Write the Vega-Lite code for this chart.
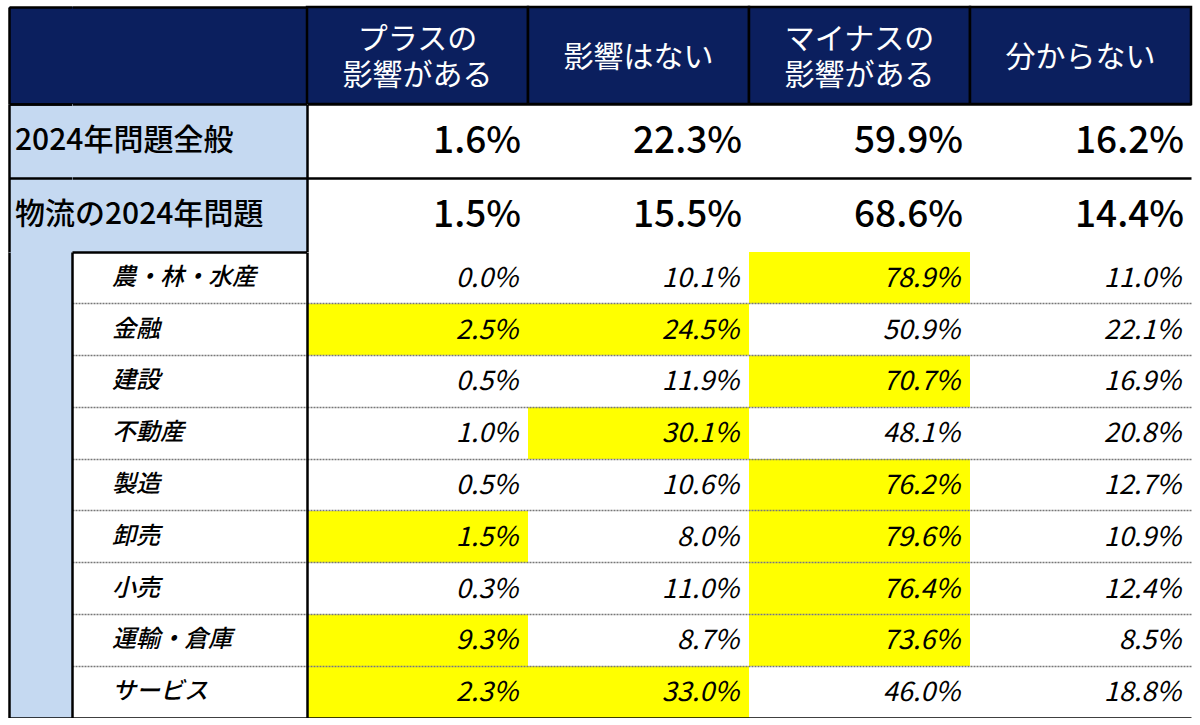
{
  "$schema": "https://vega.github.io/schema/vega-lite/v6.json",
  "padding": {"left": 9, "top": 5, "right": 0, "bottom": 0},
  "background": "white",
  "columns": 3,
  "spacing": 0,
  "bounds": "flush",
  "config": {"view": {"stroke": null}, "font": "Noto Sans CJK JP"},
  "datasets": {
    "cols": [
      {"col": "プラスの影響がある", "lines": ["プラスの", "影響がある"]},
      {"col": "影響はない", "lines": ["影響はない"]},
      {"col": "マイナスの影響がある", "lines": ["マイナスの", "影響がある"]},
      {"col": "分からない", "lines": ["分からない"]}
    ],
    "summary": [
      {"item": "2024年問題全般", "col": "プラスの影響がある", "v": 0.016},
      {"item": "2024年問題全般", "col": "影響はない", "v": 0.223},
      {"item": "2024年問題全般", "col": "マイナスの影響がある", "v": 0.599},
      {"item": "2024年問題全般", "col": "分からない", "v": 0.162},
      {"item": "物流の2024年問題", "col": "プラスの影響がある", "v": 0.015},
      {"item": "物流の2024年問題", "col": "影響はない", "v": 0.155},
      {"item": "物流の2024年問題", "col": "マイナスの影響がある", "v": 0.686},
      {"item": "物流の2024年問題", "col": "分からない", "v": 0.144}
    ],
    "sectors": [
      {"sector": "農・林・水産", "col": "プラスの影響がある", "v": 0.0, "hl": false},
      {"sector": "農・林・水産", "col": "影響はない", "v": 0.101, "hl": false},
      {"sector": "農・林・水産", "col": "マイナスの影響がある", "v": 0.789, "hl": true},
      {"sector": "農・林・水産", "col": "分からない", "v": 0.110, "hl": false},
      {"sector": "金融", "col": "プラスの影響がある", "v": 0.025, "hl": true},
      {"sector": "金融", "col": "影響はない", "v": 0.245, "hl": true},
      {"sector": "金融", "col": "マイナスの影響がある", "v": 0.509, "hl": false},
      {"sector": "金融", "col": "分からない", "v": 0.221, "hl": false},
      {"sector": "建設", "col": "プラスの影響がある", "v": 0.005, "hl": false},
      {"sector": "建設", "col": "影響はない", "v": 0.119, "hl": false},
      {"sector": "建設", "col": "マイナスの影響がある", "v": 0.707, "hl": true},
      {"sector": "建設", "col": "分からない", "v": 0.169, "hl": false},
      {"sector": "不動産", "col": "プラスの影響がある", "v": 0.010, "hl": false},
      {"sector": "不動産", "col": "影響はない", "v": 0.301, "hl": true},
      {"sector": "不動産", "col": "マイナスの影響がある", "v": 0.481, "hl": false},
      {"sector": "不動産", "col": "分からない", "v": 0.208, "hl": false},
      {"sector": "製造", "col": "プラスの影響がある", "v": 0.005, "hl": false},
      {"sector": "製造", "col": "影響はない", "v": 0.106, "hl": false},
      {"sector": "製造", "col": "マイナスの影響がある", "v": 0.762, "hl": true},
      {"sector": "製造", "col": "分からない", "v": 0.127, "hl": false},
      {"sector": "卸売", "col": "プラスの影響がある", "v": 0.015, "hl": true},
      {"sector": "卸売", "col": "影響はない", "v": 0.080, "hl": false},
      {"sector": "卸売", "col": "マイナスの影響がある", "v": 0.796, "hl": true},
      {"sector": "卸売", "col": "分からない", "v": 0.109, "hl": false},
      {"sector": "小売", "col": "プラスの影響がある", "v": 0.003, "hl": false},
      {"sector": "小売", "col": "影響はない", "v": 0.110, "hl": false},
      {"sector": "小売", "col": "マイナスの影響がある", "v": 0.764, "hl": true},
      {"sector": "小売", "col": "分からない", "v": 0.124, "hl": false},
      {"sector": "運輸・倉庫", "col": "プラスの影響がある", "v": 0.093, "hl": true},
      {"sector": "運輸・倉庫", "col": "影響はない", "v": 0.087, "hl": false},
      {"sector": "運輸・倉庫", "col": "マイナスの影響がある", "v": 0.736, "hl": true},
      {"sector": "運輸・倉庫", "col": "分からない", "v": 0.085, "hl": false},
      {"sector": "サービス", "col": "プラスの影響がある", "v": 0.023, "hl": true},
      {"sector": "サービス", "col": "影響はない", "v": 0.330, "hl": true},
      {"sector": "サービス", "col": "マイナスの影響がある", "v": 0.460, "hl": false},
      {"sector": "サービス", "col": "分からない", "v": 0.188, "hl": false}
    ]
  },
  "concat": [
    {
      "width": 63,
      "height": 97,
      "data": {"name": "cols"},
      "transform": [{"filter": "datum.col === 'プラスの影響がある'"}],
      "mark": {"type": "rect", "fill": "#0b1f5e"},
      "encoding": {
        "x": {"field": "col", "type": "nominal", "title": null,
              "scale": {"type": "band", "paddingInner": 0, "paddingOuter": 0},
              "axis": {"orient": "top", "labels": false, "ticks": false, "domain": true, "domainColor": "#000", "domainWidth": 2.5, "grid": false, "zindex": 1}},
        "y": {"field": "col", "type": "nominal", "title": null,
              "scale": {"type": "band", "paddingInner": 0, "paddingOuter": 0},
              "axis": {"orient": "left", "labels": false, "ticks": false, "domain": true, "domainColor": "#000", "domainWidth": 2.5, "grid": false, "zindex": 1}}
      }
    },
    {
      "width": 235,
      "height": 97,
      "data": {"name": "cols"},
      "transform": [{"filter": "datum.col === 'プラスの影響がある'"}],
      "mark": {"type": "rect", "fill": "#0b1f5e"},
      "encoding": {
        "x": {"field": "col", "type": "nominal", "title": null,
              "scale": {"type": "band", "paddingInner": 0, "paddingOuter": 0},
              "axis": {"orient": "top", "labels": false, "ticks": false, "domain": true, "domainColor": "#000", "domainWidth": 2.5, "grid": false, "zindex": 1}}
      }
    },
    {
      "width": 884,
      "height": 97,
      "data": {"name": "cols"},
      "encoding": {
        "x": {"field": "col", "type": "nominal", "sort": null, "title": null,
              "scale": {"type": "band", "paddingInner": 0, "paddingOuter": 0}, "axis": null}
      },
      "layer": [
        {"mark": {"type": "rect", "fill": "#0b1f5e", "stroke": "#000", "strokeWidth": 2.5}},
        {"transform": [{"filter": "length(datum.lines) > 1"}],
         "mark": {"type": "text", "color": "#ffffff", "fontSize": 30, "lineHeight": 36, "baseline": "middle", "dy": -16},
         "encoding": {"text": {"field": "lines"}}},
        {"transform": [{"filter": "length(datum.lines) === 1"}],
         "mark": {"type": "text", "color": "#ffffff", "fontSize": 30, "baseline": "middle", "dy": 2},
         "encoding": {"text": {"field": "lines"}}}
      ]
    },
    {
      "width": 63,
      "height": 148,
      "data": {"name": "summary"},
      "transform": [{"filter": "datum.col === 'プラスの影響がある'"}],
      "mark": {"type": "rect", "fill": "#c5d9f1"},
      "encoding": {
        "x": {"field": "col", "type": "nominal", "title": null,
              "scale": {"type": "band", "paddingInner": 0, "paddingOuter": 0},
              "axis": {"orient": "top", "labels": false, "ticks": false, "domain": true, "domainColor": "#000", "domainWidth": 2.5, "grid": false, "zindex": 1}},
        "y": {"field": "item", "type": "nominal", "sort": null, "title": null,
              "scale": {"type": "band", "paddingInner": 0, "paddingOuter": 0},
              "axis": {"orient": "left", "labels": false, "ticks": false, "domain": true, "domainColor": "#000", "domainWidth": 2.5,
                       "grid": true, "gridColor": "#000", "gridWidth": 2.5, "bandPosition": 0, "zindex": 1}}
      }
    },
    {
      "width": 235,
      "height": 148,
      "data": {"name": "summary"},
      "transform": [{"filter": "datum.col === 'プラスの影響がある'"}],
      "encoding": {
        "y": {"field": "item", "type": "nominal", "sort": null, "title": null,
              "scale": {"type": "band", "paddingInner": 0, "paddingOuter": 0},
              "axis": {"orient": "left", "labels": false, "ticks": false, "domain": false,
                       "grid": true, "gridColor": "#000", "gridWidth": 2.5, "bandPosition": 0, "zindex": 1}}
      },
      "layer": [
        {"mark": {"type": "rect", "fill": "#c5d9f1"},
         "encoding": {
           "x": {"field": "col", "type": "nominal", "title": null,
                 "scale": {"type": "band", "paddingInner": 0, "paddingOuter": 0},
                 "axis": {"orient": "top", "labels": false, "ticks": false, "domain": true, "domainColor": "#000", "domainWidth": 2.5, "grid": false, "zindex": 1}}
         }},
        {"mark": {"type": "text", "align": "left", "dx": -57, "fontSize": 30, "fontWeight": 500, "color": "#000"},
         "encoding": {
           "x": {"field": "col", "type": "nominal", "bandPosition": 0, "title": null, "axis": null},
           "text": {"field": "item"}
         }}
      ]
    },
    {
      "width": 884,
      "height": 148,
      "data": {"name": "summary"},
      "encoding": {
        "y": {"field": "item", "type": "nominal", "sort": null, "title": null,
              "scale": {"type": "band", "paddingInner": 0, "paddingOuter": 0},
              "axis": {"orient": "left", "labels": false, "ticks": false, "domain": true, "domainColor": "#000", "domainWidth": 2.5,
                       "grid": true, "gridColor": "#000", "gridWidth": 2.5, "bandPosition": 0, "zindex": 1}}
      },
      "layer": [
        {"mark": {"type": "rect", "fill": "#ffffff"},
         "encoding": {
           "x": {"field": "col", "type": "nominal", "sort": null, "title": null,
                 "scale": {"type": "band", "paddingInner": 0, "paddingOuter": 0},
                 "axis": {"orient": "top", "labels": false, "ticks": false, "domain": true, "domainColor": "#000", "domainWidth": 2.5,
                          "grid": true, "gridColor": "#000", "gridWidth": 2.5, "bandPosition": 1, "zindex": 1}}
         }},
        {"mark": {"type": "text", "align": "right", "dx": -7, "fontSize": 37, "fontWeight": 500, "color": "#000", "dy": 1},
         "encoding": {
           "x": {"field": "col", "type": "nominal", "sort": null, "bandPosition": 1, "title": null, "axis": null},
           "text": {"field": "v", "type": "quantitative", "format": ".1%"}
         }}
      ]
    },
    {
      "width": 63,
      "height": 466,
      "data": {"name": "sectors"},
      "transform": [{"filter": "datum.col === 'プラスの影響がある'"}],
      "mark": {"type": "rect", "fill": "#c5d9f1"},
      "encoding": {
        "x": {"field": "col", "type": "nominal", "title": null,
              "scale": {"type": "band", "paddingInner": 0, "paddingOuter": 0},
              "axis": {"orient": "bottom", "labels": false, "ticks": false, "domain": true, "domainColor": "#000", "domainWidth": 2.5, "grid": false, "zindex": 1}},
        "y": {"field": "col", "type": "nominal", "title": null,
              "scale": {"type": "band", "paddingInner": 0, "paddingOuter": 0},
              "axis": {"orient": "left", "labels": false, "ticks": false, "domain": true, "domainColor": "#000", "domainWidth": 2.5, "grid": false, "zindex": 1}}
      }
    },
    {
      "width": 235,
      "height": 466,
      "data": {"name": "sectors"},
      "transform": [{"filter": "datum.col === 'プラスの影響がある'"}],
      "mark": {"type": "text", "align": "left", "dx": 40, "fontSize": 24, "fontStyle": "italic", "fontWeight": 500, "color": "#000"},
      "encoding": {
        "x": {"field": "col", "type": "nominal", "bandPosition": 0, "title": null,
              "scale": {"type": "band", "paddingInner": 0, "paddingOuter": 0},
              "axis": {"orient": "top", "labels": false, "ticks": false, "domain": true, "domainColor": "#000", "domainWidth": 2.5, "grid": false, "zindex": 1}},
        "y": {"field": "sector", "type": "nominal", "sort": null, "title": null,
              "scale": {"type": "band", "paddingInner": 0, "paddingOuter": 0},
              "axis": {"orient": "left", "labels": false, "ticks": false, "domain": true, "domainColor": "#000", "domainWidth": 2.5,
                       "grid": true, "bandPosition": 1, "zindex": 1,
                       "gridColor": {"condition": {"test": "datum.value === 'サービス'", "value": "#000"}, "value": "#777"},
                       "gridDash": {"condition": {"test": "datum.value === 'サービス'", "value": []}, "value": [2, 1]},
                       "gridWidth": {"condition": {"test": "datum.value === 'サービス'", "value": 2.5}, "value": 1.5}}},
        "text": {"field": "sector"}
      }
    },
    {
      "width": 884,
      "height": 466,
      "data": {"name": "sectors"},
      "encoding": {
        "y": {"field": "sector", "type": "nominal", "sort": null, "title": null,
              "scale": {"type": "band", "paddingInner": 0, "paddingOuter": 0},
              "axis": {"orient": "left", "labels": false, "ticks": false, "domain": true, "domainColor": "#000", "domainWidth": 2.5,
                       "grid": true, "bandPosition": 1, "zindex": 1,
                       "gridColor": {"condition": {"test": "datum.value === 'サービス'", "value": "#000"}, "value": "#777"},
                       "gridDash": {"condition": {"test": "datum.value === 'サービス'", "value": []}, "value": [2, 1]},
                       "gridWidth": {"condition": {"test": "datum.value === 'サービス'", "value": 2.5}, "value": 1.5}}}
      },
      "layer": [
        {"mark": {"type": "rect"},
         "encoding": {
           "x": {"field": "col", "type": "nominal", "sort": null, "title": null,
                 "scale": {"type": "band", "paddingInner": 0, "paddingOuter": 0},
                 "axis": {"orient": "top", "labels": false, "ticks": false, "domain": true, "domainColor": "#000", "domainWidth": 2.5,
                          "grid": true, "gridColor": "#000", "gridWidth": 2.5, "bandPosition": 1, "zindex": 2}},
           "fill": {"condition": {"test": "datum.hl", "value": "#ffff00"}, "value": "#ffffff"}
         }},
        {"mark": {"type": "text", "align": "right", "dx": -10, "fontSize": 27, "fontStyle": "italic", "color": "#000", "dy": 1},
         "encoding": {
           "x": {"field": "col", "type": "nominal", "sort": null, "bandPosition": 1, "title": null, "axis": null},
           "text": {"field": "v", "type": "quantitative", "format": ".1%"}
         }}
      ]
    }
  ]
}
